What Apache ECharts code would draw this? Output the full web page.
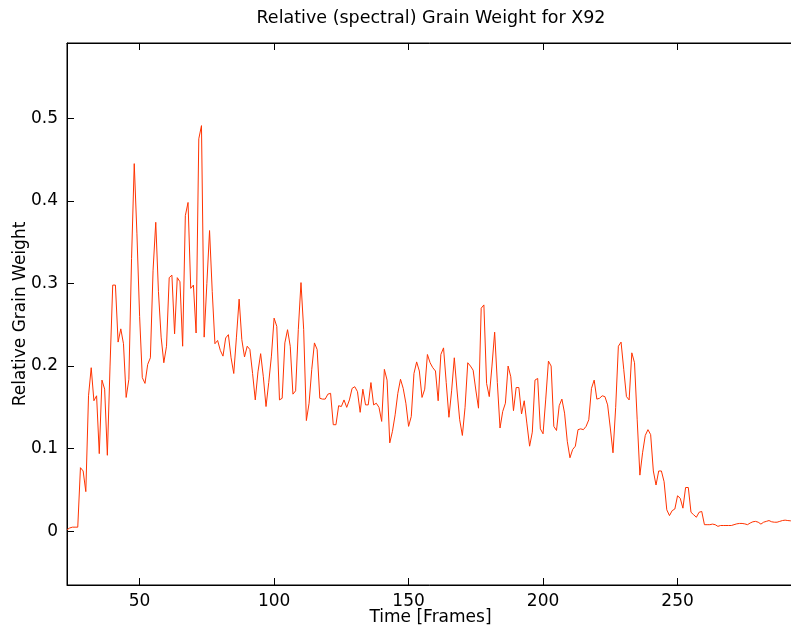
<!DOCTYPE html>
<html>
<head>
<meta charset="utf-8">
<script src="https://cdn.jsdelivr.net/npm/echarts@6/dist/echarts.min.js"></script>
<style>
html,body{margin:0;padding:0;background:#fff;}
#chart{width:791px;height:627px;}
</style>
</head>
<body>
<div id="chart"></div>
<script>
// ---- data ----
const titleText = 'Relative (spectral) Grain Weight for X92';
const xName = 'Time [Frames]';
const yName = 'Relative Grain Weight';
const firstFrame = 23;
const grainWeight = [
0.002,0.004,0.005,0.005,0.005,0.077,0.073,0.048,0.164,0.198,
0.158,0.164,0.094,0.183,0.172,0.092,0.200,0.298,0.298,0.229,
0.245,0.227,0.162,0.184,0.330,0.445,0.360,0.260,0.186,0.179,
0.202,0.210,0.316,0.374,0.290,0.235,0.204,0.224,0.307,0.310,
0.239,0.307,0.302,0.224,0.382,0.398,0.294,0.298,0.240,0.475,
0.491,0.235,0.300,0.364,0.290,0.227,0.231,0.219,0.212,0.234,
0.238,0.210,0.191,0.235,0.281,0.232,0.211,0.224,0.220,0.191,
0.159,0.193,0.215,0.187,0.151,0.180,0.212,0.258,0.248,0.159,
0.161,0.228,0.244,0.224,0.166,0.170,0.244,0.301,0.244,0.134,
0.155,0.196,0.228,0.220,0.161,0.160,0.160,0.166,0.167,0.129,
0.129,0.152,0.151,0.159,0.150,0.159,0.173,0.175,0.169,0.144,
0.172,0.153,0.153,0.180,0.153,0.155,0.150,0.133,0.196,0.183,
0.107,0.121,0.141,0.167,0.184,0.173,0.155,0.127,0.139,0.191,
0.205,0.194,0.162,0.172,0.214,0.204,0.198,0.194,0.158,0.214,
0.222,0.180,0.138,0.170,0.210,0.171,0.135,0.116,0.150,0.204,
0.200,0.195,0.171,0.149,0.270,0.274,0.179,0.163,0.200,0.241,
0.180,0.125,0.145,0.155,0.200,0.187,0.146,0.174,0.174,0.142,
0.158,0.130,0.103,0.120,0.183,0.185,0.124,0.118,0.160,0.206,
0.200,0.127,0.122,0.152,0.160,0.143,0.109,0.089,0.099,0.103,
0.123,0.124,0.123,0.127,0.135,0.173,0.183,0.160,0.161,0.164,
0.163,0.153,0.125,0.095,0.150,0.224,0.229,0.196,0.163,0.159,
0.216,0.204,0.135,0.068,0.095,0.116,0.123,0.117,0.073,0.056,
0.073,0.073,0.060,0.026,0.019,0.025,0.027,0.043,0.040,0.028,
0.053,0.053,0.023,0.020,0.017,0.023,0.024,0.008,0.008,0.008,
0.0087,0.008,0.006,0.007,0.007,0.007,0.007,0.007,0.008,0.009,
0.0095,0.0095,0.009,0.008,0.010,0.0115,0.012,0.011,0.0087,0.011,
0.012,0.013,0.0115,0.011,0.011,0.012,0.013,0.0135,0.013,0.0127,
0.0127
];
const xTicks = [50, 100, 150, 200, 250];
const yTicks = [0, 0.1, 0.2, 0.3, 0.4, 0.5];
const xRange = [23, 293.3];
const yRange = [-0.065, 0.591];

// ---- chart ----
const seriesData = grainWeight.map((v, i) => [firstFrame + i, v]);
const font = 'DejaVu Sans, Liberation Sans, Arial, sans-serif';
const chart = echarts.init(document.getElementById('chart'), null, {renderer: 'canvas'});
chart.setOption({
  animation: false,
  backgroundColor: '#ffffff',
  title: {
    text: titleText,
    left: 426, top: 4, textAlign: 'center',
    textStyle: {fontFamily: font, fontSize: 17.5, fontWeight: 'normal', color: '#000'}
  },
  grid: {left: 67, right: -3, top: 43, bottom: 42, show: true, borderColor: '#000', borderWidth: 1,
    outerBoundsMode: 'none', containLabel: false},
  xAxis: [{
    type: 'value', min: xRange[0], max: xRange[1],
    name: xName, nameLocation: 'middle', nameGap: 24, nameMoveOverlap: false,
    nameTextStyle: {fontFamily: font, fontSize: 17, color: '#000'},
    axisLine: {show: true, onZero: false, lineStyle: {color: '#000', width: 1}},
    axisTick: {show: true, inside: true, length: 7, customValues: xTicks, lineStyle: {color: '#000'}},
    axisLabel: {show: true, customValues: xTicks, margin: 8, fontFamily: font, fontSize: 17, color: '#000'},
    splitLine: {show: false}
  }, {
    type: 'value', position: 'top', min: xRange[0], max: xRange[1],
    axisLine: {show: true, onZero: false, lineStyle: {color: '#000', width: 1}},
    axisTick: {show: true, inside: true, length: 7, customValues: xTicks, lineStyle: {color: '#000'}},
    axisLabel: {show: false},
    splitLine: {show: false}
  }],
  yAxis: {
    type: 'value', min: yRange[0], max: yRange[1],
    name: yName, nameLocation: 'middle', nameGap: 38, nameRotate: 90, nameMoveOverlap: false,
    nameTextStyle: {fontFamily: font, fontSize: 17, color: '#000'},
    axisLine: {show: true, onZero: false, lineStyle: {color: '#000', width: 1}},
    axisTick: {show: true, inside: true, length: 7, customValues: yTicks, lineStyle: {color: '#000'}},
    axisLabel: {show: true, customValues: yTicks, margin: 9, fontFamily: font, fontSize: 17, color: '#000',
      formatter: v => (Math.abs(v) < 1e-9 ? '0' : v.toFixed(1))},
    splitLine: {show: false}
  },
  series: [{
    type: 'line', data: seriesData, showSymbol: false, symbol: 'none',
    lineStyle: {color: '#ff3300', width: 1}, xAxisIndex: 0
  }]
});
</script>
</body>
</html>
